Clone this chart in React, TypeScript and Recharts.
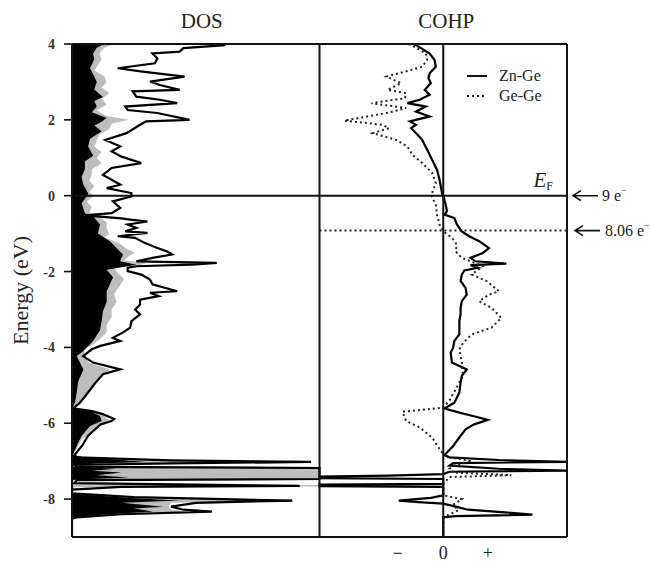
import {
  Area,
  ComposedChart,
  Legend,
  Line,
  ReferenceLine,
  XAxis,
  YAxis,
} from 'recharts';

const SERIF = '"Liberation Serif", "Times New Roman", serif';

// energy axis (eV)
const energyDomain = [-9, 4];
const energyTicks = [-8, -6, -4, -2, 0, 2, 4];
const fermiEnergy = 0;
const shiftedFermi = -0.92;

// COHP bottom ticks (arbitrary units, 0 at the centre of the panel)
const cohpTicks = [-0.37, 0, 0.36];
const cohpTickLabels = ['−', '0', '+'];

const panelTitles = ['DOS', 'COHP'];
const electronCounts = ['9 e', '8.06 e'];
const seriesNames = ['Zn-Ge', 'Ge-Ge'];

// [energy, DOS] total density of states (black line)
const dosTotal: [number, number][] = [
  [4.0, 58], [3.97, 62], [3.89, 45], [3.8, 43.5], [3.75, 32.5], [3.62, 34.5],
  [3.49, 33.5], [3.36, 18.5], [3.27, 28.5], [3.14, 45.5], [3.01, 31.5],
  [2.92, 35.5], [2.79, 43.5], [2.75, 24.5], [2.61, 26], [2.53, 35.5],
  [2.44, 42.5], [2.35, 21.5], [2.26, 22.5], [2.18, 34.5], [2.0, 47.5],
  [1.96, 30], [1.87, 27.5], [1.65, 22], [1.47, 13.5], [1.3, 19.5], [1.17, 16],
  [1.03, 20], [0.86, 28], [0.73, 16], [0.55, 12.5], [0.42, 16], [0.29, 19.5],
  [0.2, 14], [0.07, 24], [-0.02, 24], [-0.15, 16.5], [-0.32, 19.5],
  [-0.46, 16], [-0.52, 5], [-0.6, 20], [-0.63, 23.5], [-0.68, 30.5],
  [-0.76, 22.5], [-0.85, 26], [-0.94, 21.5], [-0.98, 30.5], [-1.07, 18.5],
  [-1.11, 25.5], [-1.25, 29.5], [-1.38, 34.5], [-1.47, 38.5], [-1.55, 40.5],
  [-1.64, 32.5], [-1.73, 26], [-1.77, 58.5], [-1.82, 48.5], [-1.86, 26],
  [-1.9, 22.5], [-1.99, 22.5], [-2.08, 28], [-2.21, 31.5], [-2.34, 32.5],
  [-2.52, 42.5], [-2.56, 31.5], [-2.65, 35], [-2.74, 27.5], [-2.87, 27.5],
  [-3.0, 25.5], [-3.13, 27.5], [-3.31, 24], [-3.48, 23.5], [-3.61, 20.5],
  [-3.75, 16.5], [-3.83, 19.5], [-3.96, 11.5], [-4.05, 8], [-4.23, 4.5],
  [-4.4, 8.5], [-4.58, 19.5], [-4.71, 12.5], [-4.93, 9.5], [-5.19, 6.5],
  [-5.46, 3.2], [-5.61, 0.5], [-5.68, 8], [-5.76, 12.5], [-5.89, 17],
  [-5.94, 16], [-6.03, 11.5], [-6.33, 6.5], [-6.6, 4], [-6.84, 1], [-6.9, 2],
  [-6.98, 40], [-7.02, 96.6], [-7.06, 40], [-7.1, 1], [-7.15, 2], [-7.18, 100],
  [-7.47, 100], [-7.5, 2], [-7.58, 1], [-7.62, 50], [-7.65, 92], [-7.68, 20],
  [-7.75, 0], [-7.85, 0], [-7.95, 25], [-8.04, 89], [-8.1, 50], [-8.2, 40],
  [-8.28, 45], [-8.33, 56.5], [-8.4, 20], [-8.48, 2], [-8.52, 0], [-9.0, 0],
];

// [energy, DOS] grey partial DOS
const dosGrey: [number, number][] = [
  [4.0, 17], [3.9, 13], [3.75, 11], [3.6, 12], [3.4, 10], [3.3, 9],
  [3.15, 13], [3.0, 14], [2.85, 12], [2.7, 15], [2.55, 12], [2.4, 14],
  [2.25, 10], [2.1, 14], [2.0, 23], [1.9, 16], [1.75, 15], [1.6, 11],
  [1.45, 10], [1.3, 9], [1.15, 12], [1.0, 10], [0.85, 12], [0.7, 8],
  [0.55, 8], [0.4, 7], [0.25, 9], [0.1, 7], [0.0, 9], [-0.15, 6], [-0.3, 8],
  [-0.45, 7], [-0.55, 11], [-0.7, 14], [-0.85, 14], [-1.0, 15], [-1.1, 13],
  [-1.25, 19], [-1.4, 22], [-1.5, 25.5], [-1.6, 23], [-1.7, 21], [-1.78, 30],
  [-1.82, 28], [-1.88, 17], [-2.0, 18], [-2.2, 21], [-2.4, 19], [-2.6, 17],
  [-2.8, 18], [-3.0, 16], [-3.2, 16], [-3.4, 14], [-3.6, 14], [-3.8, 11],
  [-3.95, 8], [-4.05, 4.6], [-4.4, 6.6], [-4.58, 15.3], [-4.71, 12.7],
  [-4.93, 9.9], [-5.19, 6.6], [-5.46, 3.2], [-5.61, 0.5], [-5.76, 12],
  [-5.94, 15.3], [-6.16, 9.3], [-6.42, 4], [-6.84, 0.5], [-6.9, 5],
  [-6.96, 20], [-7.02, 88], [-7.05, 30], [-7.1, 1], [-7.15, 2], [-7.17, 100],
  [-7.48, 100], [-7.5, 1], [-7.61, 1], [-7.63, 100], [-7.67, 100], [-7.69, 1],
  [-7.85, 0], [-7.95, 20], [-8.04, 81], [-8.1, 40], [-8.2, 39], [-8.28, 40],
  [-8.33, 47.5], [-8.4, 15], [-8.48, 1], [-8.52, 0], [-9.0, 0],
];

// [energy, DOS] black partial DOS
const dosBlack: [number, number][] = [
  [4.0, 13], [3.9, 10], [3.75, 8.5], [3.6, 9], [3.36, 7.3], [3.14, 9],
  [3.0, 10], [2.8, 9], [2.6, 12.5], [2.5, 9], [2.35, 10], [2.2, 8],
  [2.05, 14], [1.95, 12], [1.85, 9], [1.7, 12], [1.5, 7.3], [1.3, 6.5],
  [1.05, 8.6], [0.9, 5.2], [0.7, 5.2], [0.5, 3.9], [0.3, 4.5], [0.05, 6.6],
  [-0.02, 5.9], [-0.2, 3.9], [-0.46, 5.2], [-0.55, 8.6], [-0.76, 11.3],
  [-1.0, 10.5], [-1.2, 15.3], [-1.38, 18], [-1.55, 20.6], [-1.73, 19.4],
  [-1.82, 26], [-1.95, 14], [-2.15, 16.6], [-2.52, 14], [-2.8, 14],
  [-3.05, 12.5], [-3.3, 12], [-3.55, 11.3], [-3.83, 8.5], [-4.1, 4.5],
  [-4.23, 1.9], [-4.4, 3.2], [-4.58, 4.6], [-4.9, 2.5], [-5.19, 1.9],
  [-5.46, 1.2], [-5.61, 0], [-5.68, 7.3], [-5.81, 11.3], [-5.94, 12],
  [-6.07, 7.3], [-6.33, 3.9], [-6.6, 1.9], [-6.84, 0.3], [-6.9, 5],
  [-6.97, 20], [-7.02, 30], [-7.06, 10], [-7.1, 0.5], [-7.15, 0.5],
  [-7.2, 18], [-7.25, 8], [-7.3, 20], [-7.37, 10], [-7.43, 23], [-7.48, 5],
  [-7.5, 0], [-7.85, 0], [-7.9, 8], [-7.98, 25], [-8.04, 43.5], [-8.1, 20],
  [-8.2, 36.8], [-8.25, 25], [-8.33, 32.7], [-8.42, 10], [-8.48, 0], [-9.0, 0],
];

// [energy, -COHP] Zn-Ge
const cohpZnGe: [number, number][] = [
  [4.0, -0.24], [3.97, -0.22], [3.89, -0.18], [3.75, -0.11], [3.58, -0.07],
  [3.4, -0.06], [3.23, -0.11], [3.1, -0.12], [2.97, -0.1], [2.79, -0.15],
  [2.66, -0.11], [2.53, -0.19], [2.44, -0.29], [2.35, -0.14], [2.22, -0.22],
  [2.09, -0.11], [1.96, -0.27], [1.87, -0.22], [1.78, -0.26], [1.65, -0.22],
  [1.47, -0.17], [1.21, -0.13], [0.95, -0.09], [0.68, -0.05], [0.42, -0.03],
  [0.07, -0.01], [0.0, 0], [-0.24, 0.02], [-0.41, 0.03], [-0.5, 0.01],
  [-0.59, 0.09], [-0.76, 0.11], [-0.94, 0.15], [-1.07, 0.21], [-1.2, 0.29],
  [-1.38, 0.37], [-1.51, 0.32], [-1.64, 0.22], [-1.73, 0.26], [-1.79, 0.51],
  [-1.83, 0.22], [-1.9, 0.28], [-1.97, 0.17], [-2.08, 0.15], [-2.25, 0.14],
  [-2.43, 0.18], [-2.61, 0.19], [-2.78, 0.15], [-2.96, 0.14], [-3.13, 0.14],
  [-3.31, 0.13], [-3.48, 0.13], [-3.66, 0.13], [-3.83, 0.09], [-4.01, 0.08],
  [-4.14, 0.06], [-4.4, 0.07], [-4.58, 0.19], [-4.75, 0.15], [-4.93, 0.14],
  [-5.19, 0.13], [-5.46, 0.09], [-5.61, 0.01], [-5.72, 0.13], [-5.81, 0.24],
  [-5.91, 0.36], [-6.03, 0.25], [-6.16, 0.18], [-6.33, 0.14], [-6.6, 0.08],
  [-6.84, 0.01], [-6.9, 0.05], [-6.97, 0.45], [-7.02, 1.0], [-7.05, 0.08],
  [-7.12, 0.05], [-7.2, 0.45], [-7.25, 1.0], [-7.28, 0.05], [-7.34, 0],
  [-7.38, -0.44], [-7.41, -1.0], [-7.45, -1.0], [-7.47, 0], [-7.6, 0],
  [-7.62, -1.0], [-7.66, -1.0], [-7.68, 0], [-7.9, 0], [-7.97, -0.1],
  [-8.04, -0.36], [-8.08, -0.2], [-8.12, 0.0], [-8.2, 0.1], [-8.28, 0.2],
  [-8.35, 0.5], [-8.41, 0.72], [-8.45, 0.1], [-8.48, 0], [-9.0, 0],
];

// [energy, -COHP] Ge-Ge
const cohpGeGe: [number, number][] = [
  [4.0, -0.28], [3.97, -0.26], [3.75, -0.14], [3.58, -0.13], [3.4, -0.17],
  [3.27, -0.31], [3.14, -0.46], [2.97, -0.34], [2.79, -0.45], [2.7, -0.3],
  [2.57, -0.31], [2.44, -0.58], [2.31, -0.3], [2.18, -0.46], [1.98, -0.8],
  [1.87, -0.49], [1.78, -0.44], [1.65, -0.57], [1.47, -0.38], [1.3, -0.29],
  [1.08, -0.25], [0.86, -0.17], [0.6, -0.09], [0.33, -0.06], [0.07, -0.09],
  [0.03, -0.1], [-0.24, -0.06], [-0.5, -0.05], [-0.76, -0.03], [-0.94, 0],
  [-1.11, 0.07], [-1.29, 0.11], [-1.47, 0.1], [-1.64, 0.15], [-1.73, 0.22],
  [-1.86, 0.32], [-2.08, 0.23], [-2.25, 0.35], [-2.52, 0.45], [-2.61, 0.37],
  [-2.78, 0.29], [-2.96, 0.39], [-3.22, 0.47], [-3.48, 0.39], [-3.66, 0.23],
  [-3.88, 0.16], [-4.05, 0.13], [-4.4, 0.15], [-4.75, 0.16], [-5.11, 0.1],
  [-5.4, 0.05], [-5.59, 0.0], [-5.7, -0.33], [-5.94, -0.3], [-6.11, -0.19],
  [-6.38, -0.09], [-6.82, 0.0], [-6.9, 0.05], [-7.0, 0.23], [-7.1, 0.1],
  [-7.2, 0.05], [-7.3, 0.08], [-7.37, 0.55], [-7.42, 0.05], [-7.6, 0],
  [-7.9, 0], [-8.0, 0.15], [-8.15, 0.08], [-8.3, 0.12], [-8.45, 0.02],
  [-8.5, 0], [-9.0, 0],
];

const toPoints = (rows: [number, number][]) => rows.map(([e, v]) => ({ e, v }));

const dashes: Record<string, string | undefined> = {
  'Zn-Ge': undefined,
  'Ge-Ge': '2 3',
};

function Arrow({ x, y }: { x: number; y: number }) {
  return (
    <path
      d={`M${x + 25},${y} L${x},${y} M${x + 8},${y - 5} L${x},${y} L${x + 8},${y + 5}`}
      stroke="#111"
      strokeWidth={1.6}
      fill="none"
    />
  );
}

function TitleLabel(props: any) {
  const { x, y, width } = props.viewBox;
  return (
    <g fontFamily={SERIF} fill="#222" fontSize={21}>
      <text x={x + width / 4 + 6} y={y - 16} textAnchor="middle">
        {panelTitles[0]}
      </text>
      <text x={x + (3 * width) / 4 + 3} y={y - 16} textAnchor="middle">
        {panelTitles[1]}
      </text>
    </g>
  );
}

function FermiLabel(props: any) {
  const { x, y, width } = props.viewBox;
  const right = x + width;
  return (
    <g fontFamily={SERIF} fill="#222">
      <text x={right - 14} y={y - 9} textAnchor="end" fontSize={21} fontStyle="italic">
        E
        <tspan fontStyle="normal" fontSize={12} dy={3}>
          F
        </tspan>
      </text>
      <Arrow x={right + 6} y={y} />
      <text x={right + 35} y={y + 5} fontSize={16}>
        {electronCounts[0]}
        <tspan dy={-7} fontSize={10}>
          −
        </tspan>
      </text>
    </g>
  );
}

function ShiftedLabel(props: any) {
  const { x, y, width } = props.viewBox;
  const right = x + width;
  return (
    <g fontFamily={SERIF} fill="#222">
      <Arrow x={right + 8} y={y} />
      <text x={right + 38} y={y + 5} fontSize={16}>
        {electronCounts[1]}
        <tspan dy={-7} fontSize={10}>
          −
        </tspan>
      </text>
    </g>
  );
}

function LegendBox(props: any) {
  const items = (props.payload || [])
    .filter((p: any) => seriesNames.includes(p.value))
    .sort((a: any, b: any) => seriesNames.indexOf(a.value) - seriesNames.indexOf(b.value));
  return (
    <div style={{ fontFamily: SERIF, fontSize: 16, color: '#222' }}>
      {items.map((p: any) => (
        <div key={p.value} style={{ display: 'flex', alignItems: 'center', height: 20 }}>
          <svg width={20} height={8}>
            <line
              x1={0}
              y1={4}
              x2={20}
              y2={4}
              stroke="#111"
              strokeWidth={2}
              strokeDasharray={dashes[p.value]}
            />
          </svg>
          <span style={{ marginLeft: 12 }}>{p.value}</span>
        </div>
      ))}
    </div>
  );
}

export default function App() {
  return (
    <div style={{ position: 'absolute', left: 0, top: 0, width: 650, height: 562, background: '#fff' }}>
      <ComposedChart
        width={650}
        height={562}
        layout="vertical"
        margin={{ top: 44, right: 83, bottom: 5, left: 10 }}
      >
        <XAxis xAxisId="dos" type="number" domain={[0, 200]} hide allowDataOverflow />
        <XAxis
          xAxisId="cohp"
          type="number"
          domain={[-3, 1]}
          ticks={cohpTicks}
          tickFormatter={(v) => cohpTickLabels[cohpTicks.indexOf(v)] ?? ''}
          height={20}
          tickSize={0}
          tickMargin={9}
          axisLine={false}
          tickLine={false}
          interval={0}
          tick={{ fontSize: 18, fontFamily: SERIF, fill: '#222' }}
          allowDataOverflow
        />
        <YAxis
          dataKey="e"
          type="number"
          domain={energyDomain}
          ticks={energyTicks}
          reversed
          allowDataOverflow
          width={62}
          tickSize={8}
          tickMargin={9}
          interval={0}
          axisLine={{ stroke: '#111', strokeWidth: 2 }}
          tickLine={{ stroke: '#111', strokeWidth: 1.6 }}
          tick={{ fontSize: 14, fontFamily: SERIF, fontWeight: 'bold', fill: '#333' }}
          label={{
            value: 'Energy (eV)',
            angle: -90,
            position: 'insideLeft',
            offset: 10,
            style: { textAnchor: 'middle', fontSize: 22, fontFamily: SERIF, fill: '#222' },
          }}
        />

        <Area
          xAxisId="dos"
          data={toPoints(dosGrey)}
          dataKey="v"
          type="linear"
          fill="#bdbdbd"
          fillOpacity={1}
          stroke="none"
          legendType="none"
          isAnimationActive={false}
        />
        <Area
          xAxisId="dos"
          data={toPoints(dosBlack)}
          dataKey="v"
          type="linear"
          fill="#000"
          fillOpacity={1}
          stroke="none"
          legendType="none"
          isAnimationActive={false}
        />
        <Line
          xAxisId="dos"
          data={toPoints(dosTotal)}
          dataKey="v"
          type="linear"
          stroke="#000"
          strokeWidth={2.2}
          dot={false}
          activeDot={false}
          legendType="none"
          isAnimationActive={false}
        />

        <Line
          xAxisId="cohp"
          data={toPoints(cohpZnGe)}
          dataKey="v"
          name={seriesNames[0]}
          type="linear"
          stroke="#000"
          strokeWidth={2.2}
          dot={false}
          activeDot={false}
          isAnimationActive={false}
        />
        <Line
          xAxisId="cohp"
          data={toPoints(cohpGeGe)}
          dataKey="v"
          name={seriesNames[1]}
          type="linear"
          stroke="#222"
          strokeWidth={2}
          strokeDasharray="2 3"
          dot={false}
          activeDot={false}
          isAnimationActive={false}
        />

        {/* frame and panel dividers */}
        <ReferenceLine xAxisId="dos" y={energyDomain[1]} stroke="#111" strokeWidth={2} label={<TitleLabel />} />
        <ReferenceLine xAxisId="dos" y={energyDomain[0]} stroke="#111" strokeWidth={2} />
        <ReferenceLine xAxisId="dos" x={100} stroke="#111" strokeWidth={2} />
        <ReferenceLine xAxisId="cohp" x={0} stroke="#111" strokeWidth={2} />
        <ReferenceLine xAxisId="cohp" x={1} stroke="#111" strokeWidth={2} />
        <ReferenceLine xAxisId="dos" y={fermiEnergy} stroke="#111" strokeWidth={2} label={<FermiLabel />} />
        <ReferenceLine
          xAxisId="cohp"
          segment={[
            { x: -1, y: shiftedFermi },
            { x: 1, y: shiftedFermi },
          ]}
          stroke="#222"
          strokeWidth={2}
          strokeDasharray="2 3"
          label={<ShiftedLabel />}
        />

        <Legend
          layout="vertical"
          align="center"
          verticalAlign="middle"
          content={<LegendBox />}
          wrapperStyle={{ position: 'absolute', top: 66, left: 467, width: 120 }}
        />
      </ComposedChart>
    </div>
  );
}
